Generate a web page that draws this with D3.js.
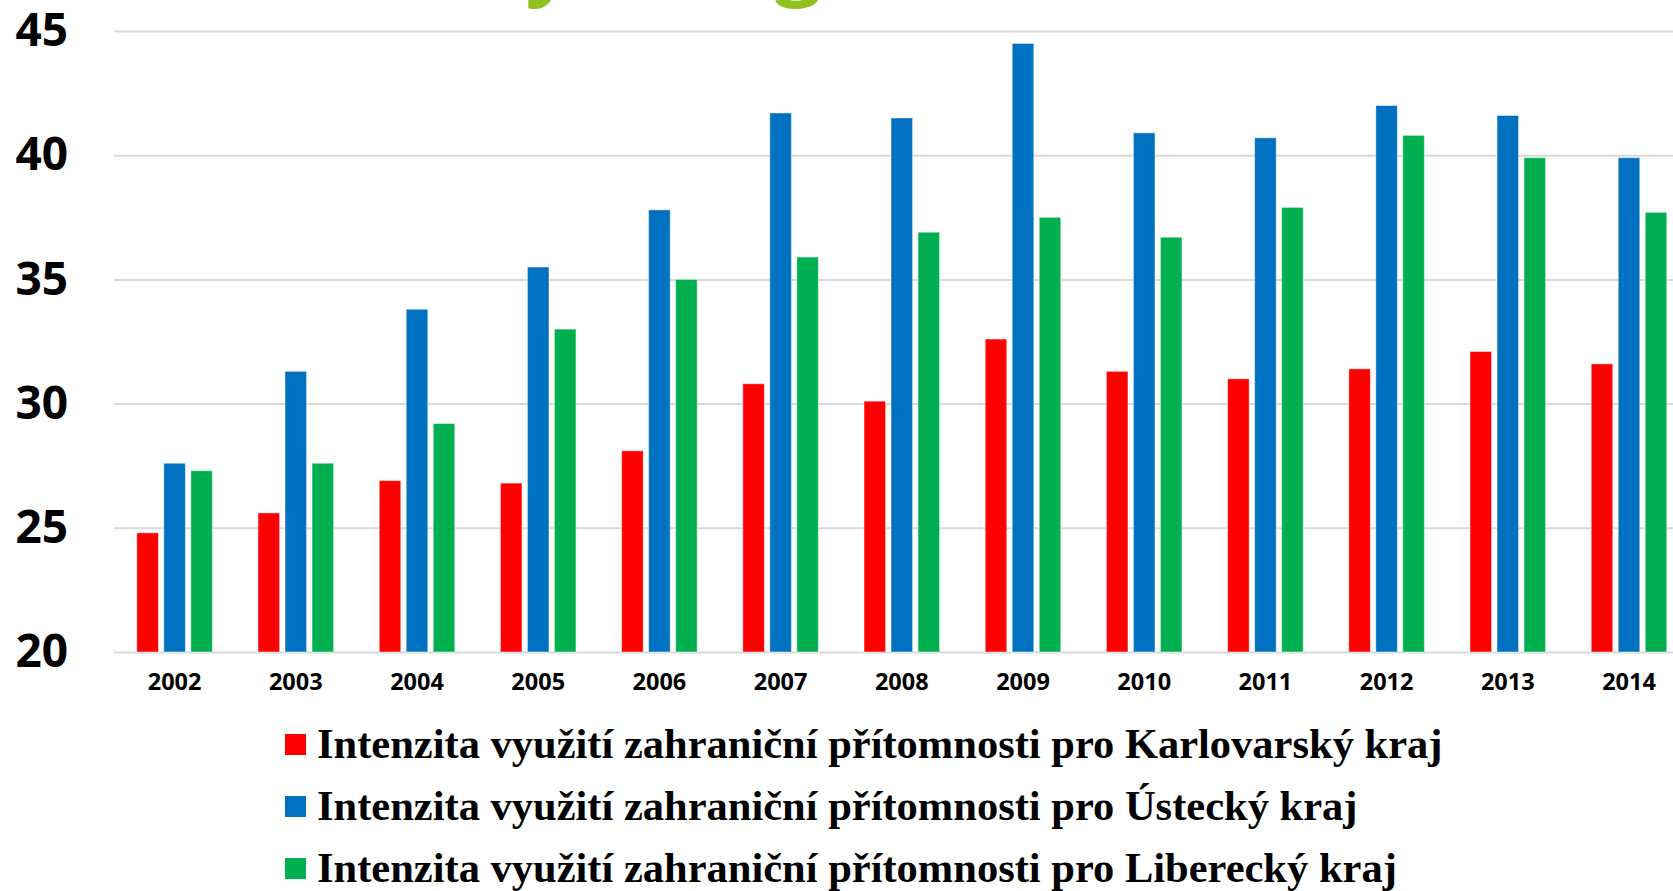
<!DOCTYPE html>
<html>
<head>
<meta charset="utf-8">
<script src="https://cdn.jsdelivr.net/npm/d3@7"></script>
<style>
  body { margin: 0; background: #fff; overflow: hidden; }
  svg { display: block; }
</style>
</head>
<body>
<div id="chart"></div>
<script>
// years on the x axis
const years = ["2002", "2003", "2004", "2005", "2006", "2007", "2008", "2009", "2010", "2011", "2012", "2013", "2014"];
// intensity values
const karlovarsky = [24.8, 25.6, 26.9, 26.8, 28.1, 30.8, 30.1, 32.6, 31.3, 31.0, 31.4, 32.1, 31.6];
const ustecky = [27.6, 31.3, 33.8, 35.5, 37.8, 41.7, 41.5, 44.5, 40.9, 40.7, 42.0, 41.6, 39.9];
const liberecky = [27.3, 27.6, 29.2, 33.0, 35.0, 35.9, 36.9, 37.5, 36.7, 37.9, 40.8, 39.9, 37.7];
const seriesNames = [
    "Intenzita využití zahraniční přítomnosti pro Karlovarský kraj",
    "Intenzita využití zahraniční přítomnosti pro Ústecký kraj",
    "Intenzita využití zahraniční přítomnosti pro Liberecký kraj"
];
const seriesColors = ["#ff0000", "#0070c0", "#00b050"];
const yTicks = [20, 25, 30, 35, 40, 45];

const W = 1673, H = 891;
const left = 114, step = 121.2;

const svg = d3.select("#chart").append("svg")
    .attr("width", W)
    .attr("height", H);

// title, only the lower part shows at the top edge
svg.append("text")
    .attr("x", 336)
    .attr("y", -11)
    .style("font-family", "'Open Sans', sans-serif")
    .style("font-weight", "bold")
    .style("font-size", "84px")
    .style("fill", "#92c01f")
    .text("Analýza regionů");

// scales
const x = d3.scaleBand()
    .domain(years)
    .range([left, left + step * years.length]);

const groupW = 75.6;
const xInner = d3.scaleBand()
    .domain([0, 1, 2])
    .range([0, groupW])
    .paddingInner(0.2);

const y = d3.scaleLinear()
    .domain([20, 45])
    .range([652, 31]);

// y axis with gridlines
const gY = svg.append("g")
    .attr("transform", `translate(${left},0)`)
    .call(d3.axisLeft(y)
        .tickValues(yTicks)
        .tickSize(-(step * years.length))
        .tickPadding(46));
gY.select(".domain").remove();
gY.selectAll(".tick line")
    .attr("stroke", "#d9d9d9")
    .attr("stroke-width", 2);
gY.selectAll(".tick text")
    .style("font-family", "'Open Sans', sans-serif")
    .style("font-weight", "bold")
    .style("font-size", "46px")
    .attr("fill", "#000");

// x axis
const gX = svg.append("g")
    .attr("transform", "translate(0,652)")
    .call(d3.axisBottom(x).tickSize(0).tickPadding(21));
gX.select(".domain").remove();
gX.selectAll(".tick text")
    .style("font-family", "'Open Sans', sans-serif")
    .style("font-weight", "bold")
    .style("font-size", "23.5px")
    .attr("fill", "#000");

// bars
const allSeries = [karlovarsky, ustecky, liberecky];
const offset = (x.bandwidth() - groupW) / 2;

allSeries.forEach((vals, s) => {
    svg.append("g")
        .selectAll("rect")
        .data(vals)
        .enter()
        .append("rect")
        .attr("x", (d, i) => x(years[i]) + offset + xInner(s))
        .attr("y", d => y(d))
        .attr("width", xInner.bandwidth())
        .attr("height", d => y(20) - y(d))
        .attr("fill", seriesColors[s])
        .attr("stroke", "#fff")
        .attr("stroke-opacity", 0.5)
        .attr("stroke-width", 1);
});

// legend
const legend = svg.append("g");
seriesNames.forEach((name, i) => {
    const base = 758 + i * 62;
    legend.append("rect")
        .attr("x", 285)
        .attr("y", base - 24)
        .attr("width", 21)
        .attr("height", 21)
        .attr("fill", seriesColors[i]);
    legend.append("text")
        .attr("x", 317)
        .attr("y", base)
        .style("font-family", "'Liberation Serif', 'Times New Roman', serif")
        .style("font-weight", "bold")
        .style("font-size", "42.5px")
        .attr("fill", "#000")
        .text(name);
});
</script>
</body>
</html>
